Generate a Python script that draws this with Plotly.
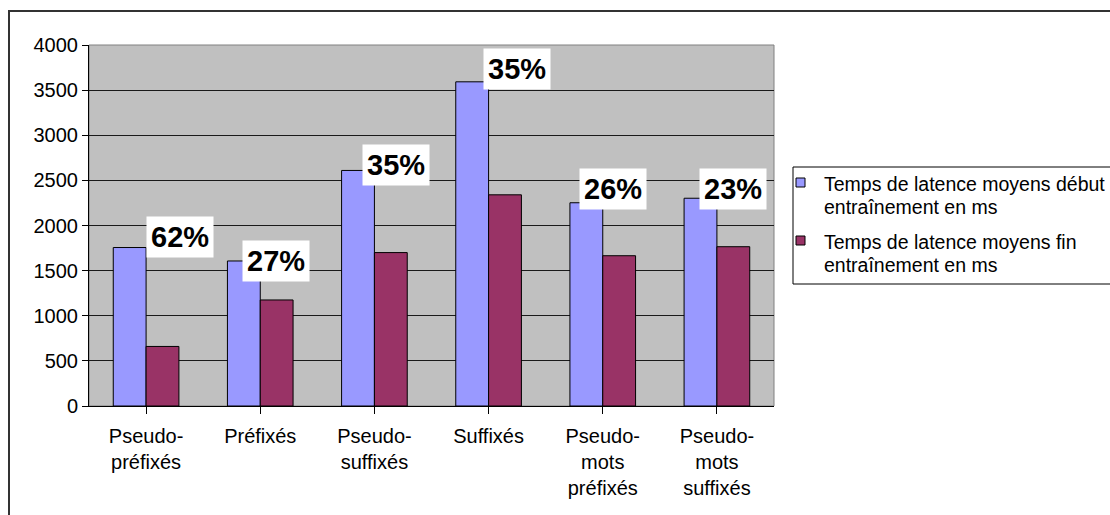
import plotly.graph_objects as go

# Categories and mean latency times (ms)
categories = [
    "Pseudo-<br>préfixés",
    "Préfixés",
    "Pseudo-<br>suffixés",
    "Suffixés",
    "Pseudo-<br>mots<br>préfixés",
    "Pseudo-<br>mots<br>suffixés",
]
debut_ms = [1756, 1607, 2610, 3592, 2252, 2302]
fin_ms = [660, 1175, 1700, 2340, 1665, 1765]
name_debut = "Temps de latence moyens début<br>entraînement en ms"
name_fin = "Temps de latence moyens fin<br>entraînement en ms"
color_debut = "#9999FF"
color_fin = "#993366"

# Gain labels (reduction between start and end of training)
gain_labels = [f"{round((d - f) / d * 100)}%" for d, f in zip(debut_ms, fin_ms)]

# Placement of the gain boxes relative to each category / start bar
label_dx = [0.30, 0.14, 0.19, 0.25, 0.09, 0.14]
label_dy = [120, 0, 60, 145, 155, 105]

W, H = 1110, 515
L, R, T, B = 89, 336, 45, 109
PW, PH = W - L - R, H - T - B
FONT = "Liberation Sans, Arial, sans-serif"


def px_x(px):
    return (px - L) / PW


def px_y(py):
    return (H - B - py) / PH


fig = go.Figure()
fig.add_trace(go.Bar(
    x=list(range(len(categories))), y=debut_ms, name=name_debut,
    marker=dict(color=color_debut, line=dict(color="#000000", width=1)),
))
fig.add_trace(go.Bar(
    x=list(range(len(categories))), y=fin_ms, name=name_fin,
    marker=dict(color=color_fin, line=dict(color="#000000", width=1)),
))

annotations = []
for i, (lab, d) in enumerate(zip(gain_labels, debut_ms)):
    annotations.append(dict(
        x=i + label_dx[i], y=d + label_dy[i], xref="x", yref="y",
        text=f"<b>{lab}</b>", showarrow=False,
        font=dict(family=FONT, size=29, color="#000000"),
        bgcolor="#FFFFFF", borderpad=4,
        xanchor="center", yanchor="middle",
    ))

shapes = [
    # plot area frame
    dict(type="rect", xref="paper", yref="paper", x0=0, x1=1, y0=0, y1=1,
         line=dict(color="#808080", width=1), layer="below"),
    # outer chart frame
    dict(type="rect", xref="paper", yref="paper",
         x0=px_x(9), x1=px_x(1140), y0=px_y(540), y1=px_y(11),
         line=dict(color="#333333", width=2)),
    # legend box
    dict(type="rect", xref="paper", yref="paper",
         x0=px_x(793), x1=px_x(1140), y0=px_y(284), y1=px_y(167),
         fillcolor="#FFFFFF", line=dict(color="#000000", width=1)),
]

# legend entries: colour swatch + two-line label
for name, color, top in ((name_debut, color_debut, 178), (name_fin, color_fin, 236)):
    shapes.append(dict(
        type="rect", xref="paper", yref="paper",
        x0=px_x(796), x1=px_x(805), y0=px_y(top + 9), y1=px_y(top),
        fillcolor=color, line=dict(color="#000000", width=1),
    ))
    for k, line in enumerate(name.split("<br>")):
        annotations.append(dict(
            x=px_x(822), y=px_y(top + 6 + 23 * k), xref="paper", yref="paper",
            text=line, showarrow=False, align="left",
            xanchor="left", yanchor="middle",
            font=dict(family=FONT, size=19.5, color="#000000"),
        ))

fig.update_layout(
    width=W, height=H,
    margin=dict(l=L, r=R, t=T, b=B, autoexpand=False),
    paper_bgcolor="#FFFFFF",
    plot_bgcolor="#C0C0C0",
    barmode="group",
    bargap=0.425,
    bargroupgap=0,
    font=dict(family=FONT, size=20, color="#000000"),
    showlegend=False,
    annotations=annotations,
    shapes=shapes,
)
fig.update_xaxes(
    tickmode="array", tickvals=list(range(len(categories))), ticktext=categories,
    range=[-0.5, len(categories) - 0.5],
    showline=True, linecolor="#000000", linewidth=1,
    ticks="outside", ticklen=7, tickcolor="#000000",
    showgrid=False, zeroline=False, ticklabelstandoff=5,
    tickfont=dict(family=FONT, size=20, color="#000000"),
)
fig.update_yaxes(
    range=[0, 4000], dtick=500, tick0=0,
    showline=True, linecolor="#000000", linewidth=1,
    ticks="outside", ticklen=6, tickcolor="#000000",
    showgrid=True, gridcolor="#1a1a1a", gridwidth=1, zeroline=False,
    tickfont=dict(family=FONT, size=20, color="#000000"),
)

fig.write_html("out.html")
